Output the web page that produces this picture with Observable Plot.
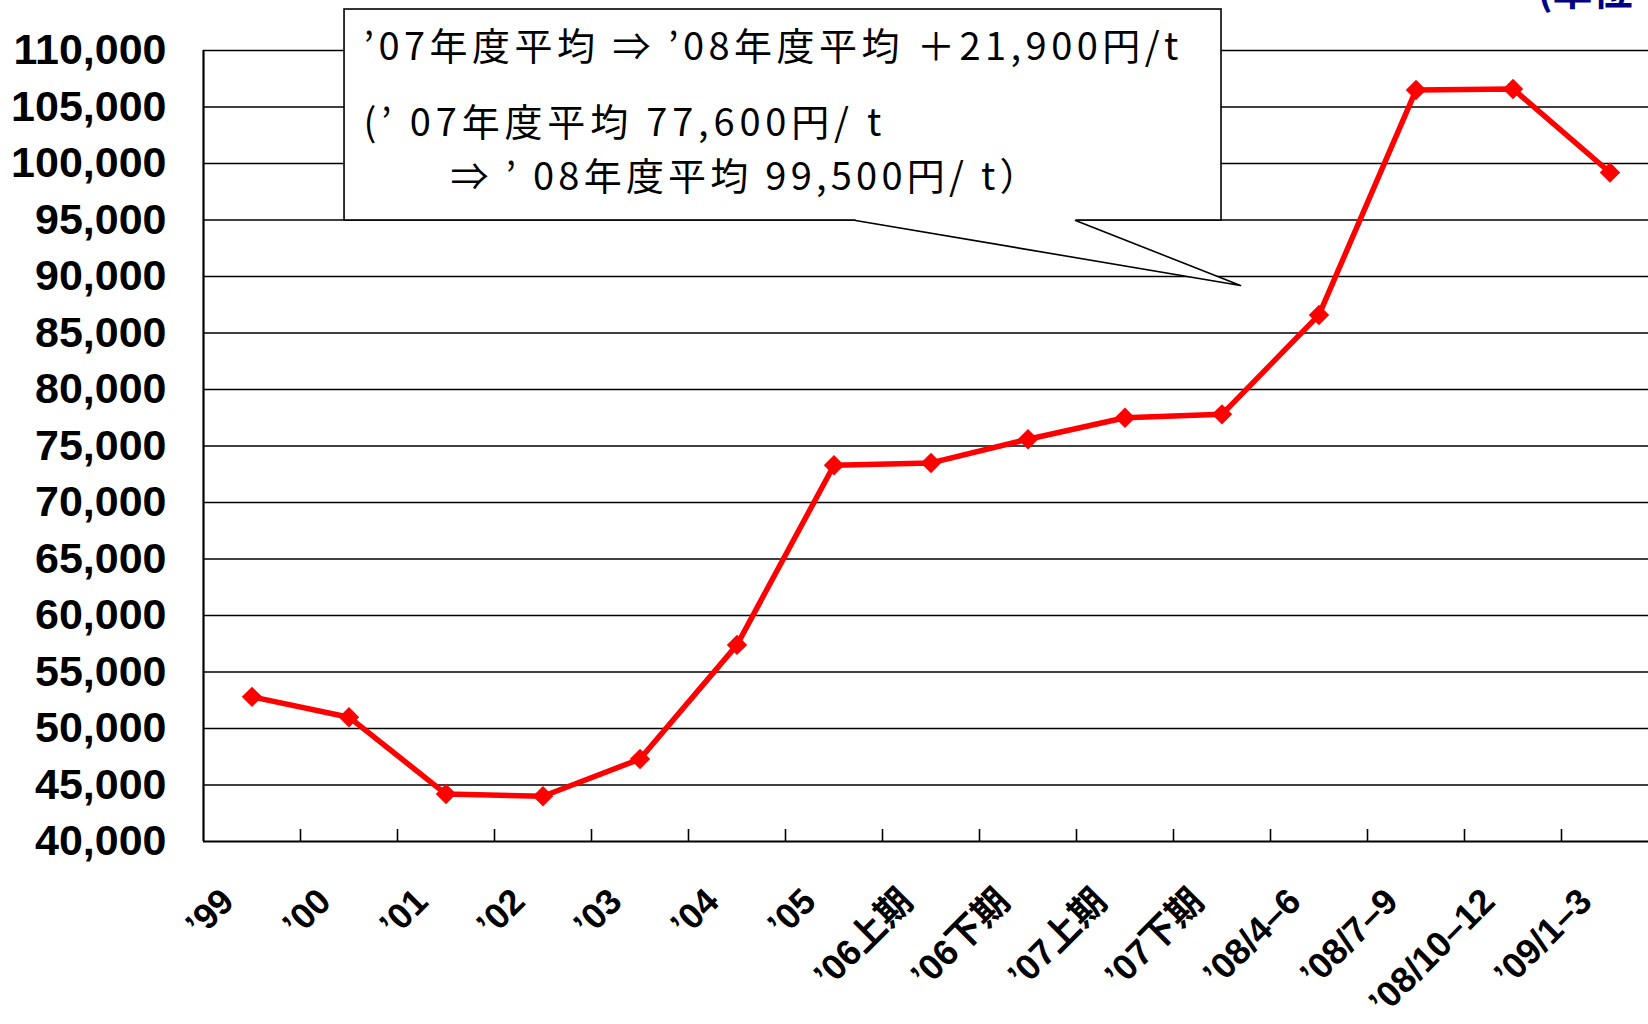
<!DOCTYPE html>
<html>
<head>
<meta charset="utf-8">
<script src="https://cdn.jsdelivr.net/npm/d3@7"></script>
<script src="https://cdn.jsdelivr.net/npm/@observablehq/plot@0.6"></script>
<style>
  html, body { margin: 0; padding: 0; background: #fff; overflow: hidden; }
  #chart svg { display: block; }
</style>
</head>
<body>
<div id="chart"></div>
<script>
// ---- data ----
const categories = ["’99", "’00", "’01", "’02", "’03", "’04", "’05",
  "’06上期", "’06下期", "’07上期", "’07下期",
  "’08/4–6", "’08/7–9", "’08/10–12", "’09/1–3"];
const prices = [52800, 51000, 44200, 44000, 47300, 57400, 73300,
  73500, 75600, 77500, 77800, 86600, 106500, 106600, 99200];
const yTicks = [40000, 45000, 50000, 55000, 60000, 65000, 70000, 75000,
  80000, 85000, 90000, 95000, 100000, 105000, 110000];
const noteLines = [
  "’07年度平均 ⇒ ’08年度平均 ＋21,900円/t",
  "(’ 07年度平均 77,600円/ t",
  "⇒ ’ 08年度平均 99,500円/ t）"
];
const unitLabel = "(単位：円/t)";

// ---- chart ----
const idx = (d, i) => i + 0.5;
const jp = "'Noto Sans CJK JP', sans-serif";

const chart = Plot.plot({
  width: 1648,
  height: 1024,
  marginLeft: 203,
  marginRight: 0,
  marginTop: 50,
  marginBottom: 183,
  style: {
    fontFamily: "'Liberation Sans', Arial, 'Noto Sans CJK JP', sans-serif",
    background: "white",
    color: "black",
    overflow: "hidden"
  },
  x: { domain: [0, 15], range: [203, 1658], axis: null },
  y: { domain: [40000, 110000], range: [841, 50], axis: null },
  marks: [
    // horizontal gridlines
    Plot.ruleY(yTicks.filter(v => v > 40000), { stroke: "#000", strokeWidth: 1.4 }),
    // callout box
    Plot.rect([0], { x1: 1.454, x2: 10.495, y1: 94956, y2: 113628,
      fill: "white", stroke: "#000", strokeWidth: 1.6 }),
    // callout tail (white fill covering box edge)
    Plot.line([[6.722, 95300], [6.722, 94956], [10.691, 89204], [8.990, 94956], [8.990, 95300]],
      { fill: "white", stroke: "none" }),
    Plot.line([[6.722, 94956], [10.691, 89204], [8.990, 94956]],
      { stroke: "#000", strokeWidth: 1.6 }),
    // callout text
    Plot.text(noteLines, { x: [1.649, 1.649, 2.546], y: [110221, 103496, 98717],
      text: d => d, textAnchor: "start", fontSize: 38, fontFamily: jp, fill: "#000" }),
    // axes lines
    Plot.ruleY([40000], { stroke: "#000", strokeWidth: 2.2 }),
    Plot.ruleX([0], { y1: 40000, y2: 110000, stroke: "#000", strokeWidth: 2.2 }),
    // inward tick marks at category boundaries
    Plot.ruleX(d3.range(1, 15), { stroke: "#000", strokeWidth: 1.6, insetTop: 779 }),
    // y axis labels
    Plot.axisY(yTicks, { tickSize: 0, tickPadding: 37, fontSize: 43, fontWeight: "bold",
      tickFormat: d3.format(","), label: null, fill: "#000" }),
    // x labels
    Plot.text(categories, { x: idx, y: 40000, text: d => d, rotate: -45,
      textAnchor: "end", lineAnchor: "bottom", dx: -16, dy: 62,
      fontSize: 36, fontWeight: "bold", fill: "#000" }),
    // series
    Plot.line(prices, { x: idx, y: d => d, stroke: "#ff0000", strokeWidth: 5.5 }),
    Plot.dot(prices, { x: idx, y: d => d, symbol: "diamond2", r: 9.2, fill: "#ff0000", stroke: "none" }),
    // unit label (cut off at top in the reference)
    Plot.text([unitLabel], { frameAnchor: "top-left", textAnchor: "start", lineAnchor: "bottom",
      dx: 1334, dy: -46, fontSize: 40, fontWeight: "bold", fontFamily: jp, fill: "#000080" })
  ]
});

// stretch callout lines to the reference widths
const noteWidths = [815, 518, 587];
chart.querySelectorAll("text").forEach(t => {
  const i = noteLines.indexOf(t.textContent);
  if (i >= 0) {
    t.setAttribute("textLength", noteWidths[i]);
    t.setAttribute("lengthAdjust", "spacing");
  }
});

document.getElementById("chart").appendChild(chart);
</script>
</body>
</html>
